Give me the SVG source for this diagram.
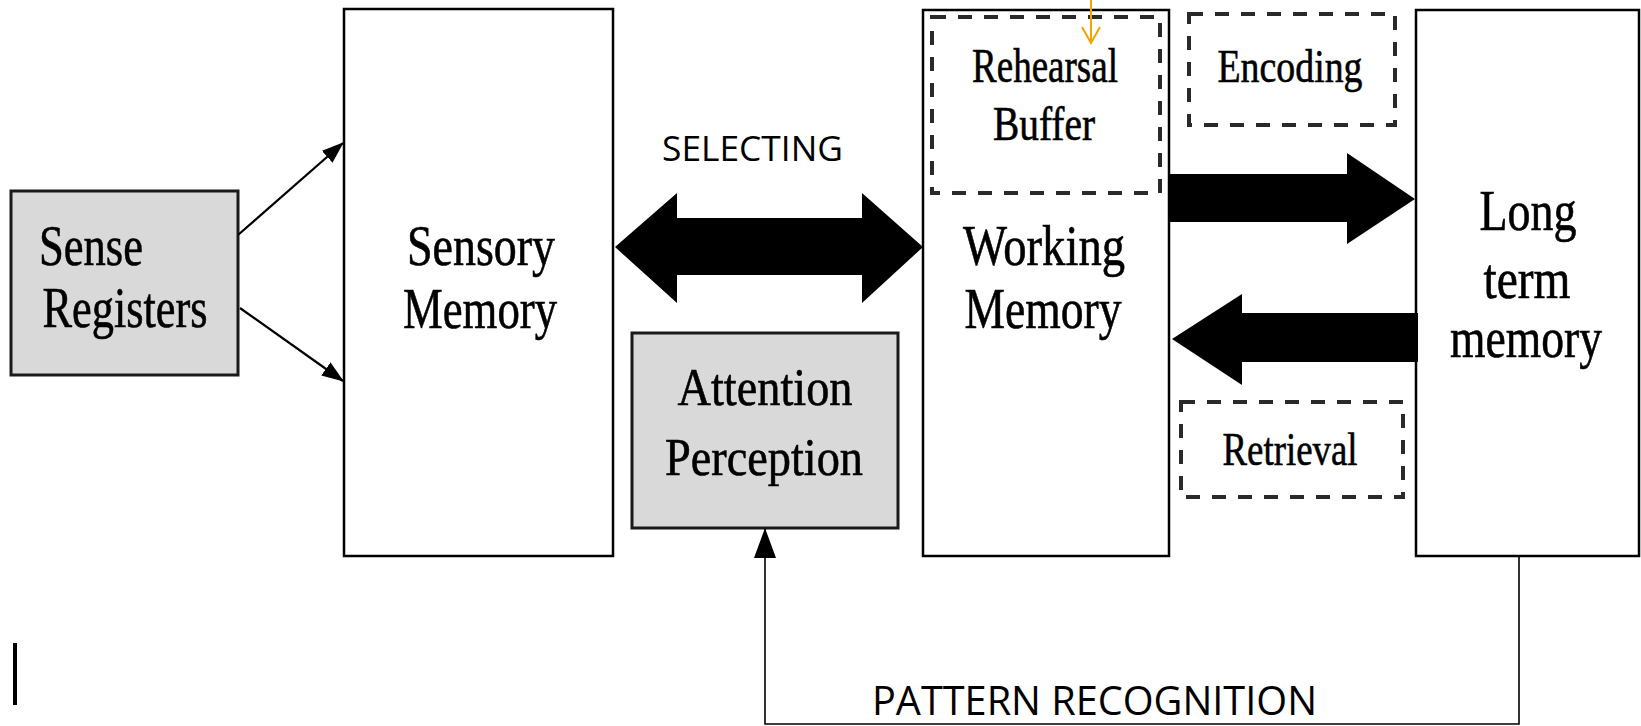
<svg xmlns="http://www.w3.org/2000/svg" width="1641" height="726" viewBox="0 0 1641 726">
  <style>
    .box { fill: #ffffff; stroke: #000000; stroke-width: 2.5; }
    .grey { fill: #d9d9d9; stroke: #1a1a1a; stroke-width: 3; }
    .dash { fill: none; stroke: #2a2a2a; stroke-width: 4; stroke-dasharray: 14 12; }
    .serif { font-family: "Liberation Serif", "Times New Roman", serif; fill: #000000; stroke: #000000; stroke-width: 0.6; text-anchor: middle; }
    .sans { font-family: "Open Sans", "Noto Sans", sans-serif; fill: #000000; }
    .line { fill: none; stroke: #000000; stroke-width: 2.2; }
    .thin { fill: none; stroke: #000000; stroke-width: 1.6; }
    .fat { fill: #000000; stroke: none; }
  </style>
  <defs>
    <marker id="tri" viewBox="0 0 22 16" refX="21" refY="8" markerWidth="22" markerHeight="16" markerUnits="userSpaceOnUse" orient="auto">
      <path d="M0,0 L22,8 L0,16 Z" fill="#000000"/>
    </marker>
    <marker id="triUp" viewBox="0 0 30 22" refX="29" refY="11" markerWidth="30" markerHeight="22" markerUnits="userSpaceOnUse" orient="auto">
      <path d="M0,0 L30,11 L0,22 Z" fill="#000000"/>
    </marker>
  </defs>

  <!-- Sense Registers -->
  <g id="sense-registers">
    <rect class="grey" x="11" y="191" width="227" height="184"/>
    <text class="serif" x="91" y="265" font-size="56" textLength="104" lengthAdjust="spacingAndGlyphs">Sense</text>
    <text class="serif" x="125" y="327" font-size="56" textLength="165" lengthAdjust="spacingAndGlyphs">Registers</text>
  </g>

  <!-- Sensory Memory -->
  <g id="sensory-memory">
    <rect class="box" x="344" y="9" width="269" height="547"/>
    <text class="serif" x="481" y="265" font-size="56" textLength="148" lengthAdjust="spacingAndGlyphs">Sensory</text>
    <text class="serif" x="480" y="328" font-size="56" textLength="154" lengthAdjust="spacingAndGlyphs">Memory</text>
  </g>

  <!-- Attention / Perception -->
  <g id="attention-perception">
    <rect class="grey" x="632" y="333" width="266" height="195"/>
    <text class="serif" x="765" y="405" font-size="53" textLength="175" lengthAdjust="spacingAndGlyphs">Attention</text>
    <text class="serif" x="764" y="475" font-size="53" textLength="198" lengthAdjust="spacingAndGlyphs">Perception</text>
  </g>

  <!-- Working Memory with rehearsal buffer -->
  <g id="working-memory">
    <rect class="box" x="923" y="10" width="246" height="546"/>
    <text class="serif" x="1044" y="265" font-size="56" textLength="162" lengthAdjust="spacingAndGlyphs">Working</text>
    <text class="serif" x="1043" y="328" font-size="56" textLength="157" lengthAdjust="spacingAndGlyphs">Memory</text>
  </g>
  <g id="rehearsal-buffer">
    <rect class="dash" x="932" y="17" width="228" height="176"/>
    <text class="serif" x="1045" y="82" font-size="48" textLength="146" lengthAdjust="spacingAndGlyphs">Rehearsal</text>
    <text class="serif" x="1044" y="140" font-size="48" textLength="102" lengthAdjust="spacingAndGlyphs">Buffer</text>
  </g>

  <!-- Encoding label -->
  <g id="encoding">
    <rect class="dash" x="1189" y="14" width="206" height="111"/>
    <text class="serif" x="1290" y="82" font-size="47" textLength="145" lengthAdjust="spacingAndGlyphs">Encoding</text>
  </g>

  <!-- Retrieval label -->
  <g id="retrieval">
    <rect class="dash" x="1181" y="402" width="222" height="95"/>
    <text class="serif" x="1290" y="465" font-size="47" textLength="135" lengthAdjust="spacingAndGlyphs">Retrieval</text>
  </g>

  <!-- Long term memory -->
  <g id="long-term-memory">
    <rect class="box" x="1416" y="10" width="223" height="546"/>
    <text class="serif" x="1528" y="230" font-size="56" textLength="97" lengthAdjust="spacingAndGlyphs">Long</text>
    <text class="serif" x="1527" y="298" font-size="56" textLength="87" lengthAdjust="spacingAndGlyphs">term</text>
    <text class="serif" x="1526" y="357" font-size="56" textLength="152" lengthAdjust="spacingAndGlyphs">memory</text>
  </g>

  <!-- Connectors -->
  <g id="connectors">
    <line class="line" x1="238" y1="235" x2="343" y2="143" marker-end="url(#tri)"/>
    <line class="line" x1="240" y1="308" x2="343" y2="381" marker-end="url(#tri)"/>
    <polygon class="fat" points="615,247 677,193 677,218 862,218 862,193 923,247 862,303 862,275 677,275 677,303"/>
    <polygon class="fat" points="1169,174 1347,174 1347,153 1415,199 1347,244 1347,222 1169,222"/>
    <polygon class="fat" points="1172,339 1242,294 1242,313 1418,313 1418,362 1242,362 1242,385"/>
    <polyline class="thin" points="1519,556 1519,724 765,724 765,529" marker-end="url(#triUp)"/>
    <!-- orange pointer into the buffer -->
    <g stroke="#f0a500" stroke-width="2" fill="none">
      <line x1="1091" y1="0" x2="1091" y2="43"/>
      <polyline points="1082,27 1091,43 1100,27"/>
    </g>
  </g>

  <!-- Labels -->
  <text class="sans" x="662" y="161" font-size="34" textLength="181" lengthAdjust="spacingAndGlyphs">SELECTING</text>
  <text class="sans" x="872" y="715" font-size="40" textLength="445" lengthAdjust="spacingAndGlyphs">PATTERN RECOGNITION</text>

  <!-- text cursor mark -->
  <rect x="13" y="643" width="4" height="62" fill="#000000"/>
</svg>
